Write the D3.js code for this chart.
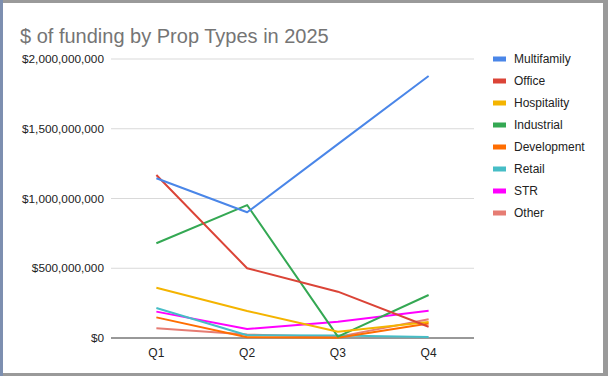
<!DOCTYPE html>
<html><head><meta charset="utf-8">
<script src="https://cdn.jsdelivr.net/npm/d3@7"></script>
<style>html,body{margin:0;padding:0;background:#fff;}svg{display:block;font-family:"Liberation Sans",Arial,sans-serif;}</style>
</head><body>
<svg id="c" width="608" height="376"></svg>
<script>
const quarters = ["Q1","Q2","Q3","Q4"];
const seriesNames = ["Multifamily","Office","Hospitality","Industrial","Development","Retail","STR","Other"];
const multifamily = [1145e6, 901e6, 1390e6, 1878e6];
const office      = [1168e6, 500e6, 332e6, 81e6];
const hospitality = [360e6, 194e6, 45e6, 115e6];
const industrial  = [679e6, 953e6, 10e6, 308e6];
const development = [148e6, 5e6, 2e6, 104e6];
const retail      = [215e6, 20e6, 18e6, 8e6];
const str         = [189e6, 65e6, 117e6, 196e6];
const other       = [70e6, 25e6, 8e6, 134e6];
const yTicks = [0, 500e6, 1000e6, 1500e6, 2000e6];
const colors = ["#4a86e8","#db4437","#f4b400","#34a853","#ff6d01","#46bdc6","#ff00ff","#e67c73"];
const values = [multifamily, office, hospitality, industrial, development, retail, str, other];

const svg = d3.select("#c");
// frame
svg.append("rect").attr("x",0).attr("y",0).attr("width",608).attr("height",376).attr("fill","#9a9a9a");
svg.append("rect").attr("x",0).attr("y",0).attr("width",3).attr("height",376).attr("fill","#7d8fb0");
svg.append("rect").attr("x",3).attr("y",3).attr("width",600).attr("height",370).attr("fill","#ffffff");

svg.append("text").attr("x",20).attr("y",43).attr("font-size",20).attr("fill","#757575")
  .text("$ of funding by Prop Types in 2025");

const x = d3.scaleBand().domain(quarters).range([111, 474]);
const y = d3.scaleLinear().domain([0, 2000e6]).range([338, 59]);
const fmt = d => "$" + d3.format(",")(d);

const g = svg.append("g");
g.selectAll("line.grid").data(yTicks.filter(d=>d>0)).join("line")
  .attr("x1",111).attr("x2",474).attr("y1",d=>y(d)).attr("y2",d=>y(d))
  .attr("stroke","#d9d9d9").attr("stroke-width",1);
g.selectAll("text.yl").data(yTicks).join("text")
  .attr("x",104).attr("y",d=>y(d)+4).attr("text-anchor","end")
  .attr("font-size",11.8).attr("fill","#222").text(fmt);
g.append("line").attr("x1",111).attr("x2",474).attr("y1",y(0)).attr("y2",y(0))
  .attr("stroke","#333").attr("stroke-width",1);
g.selectAll("text.xl").data(quarters).join("text")
  .attr("x",d=>x(d)+x.bandwidth()/2).attr("y",357).attr("text-anchor","middle")
  .attr("font-size",12).attr("fill","#222").text(d=>d);

const line = d3.line().x((d,i)=>x(quarters[i])+x.bandwidth()/2).y(d=>y(d));
for (let k = values.length-1; k >= 0; k--) {
  svg.append("path").datum(values[k]).attr("d", line).attr("fill","none")
    .attr("stroke", colors[k]).attr("stroke-width", 2).attr("stroke-linejoin","round");
}

const lg = svg.append("g");
seriesNames.forEach((n,i)=>{
  const cy = 59 + i*22;
  lg.append("rect").attr("x",493).attr("y",cy-2.5).attr("width",13).attr("height",5).attr("fill",colors[i]);
  lg.append("text").attr("x",514).attr("y",cy+4).attr("font-size",12).attr("fill","#222").text(n);
});
</script>
</body></html>
